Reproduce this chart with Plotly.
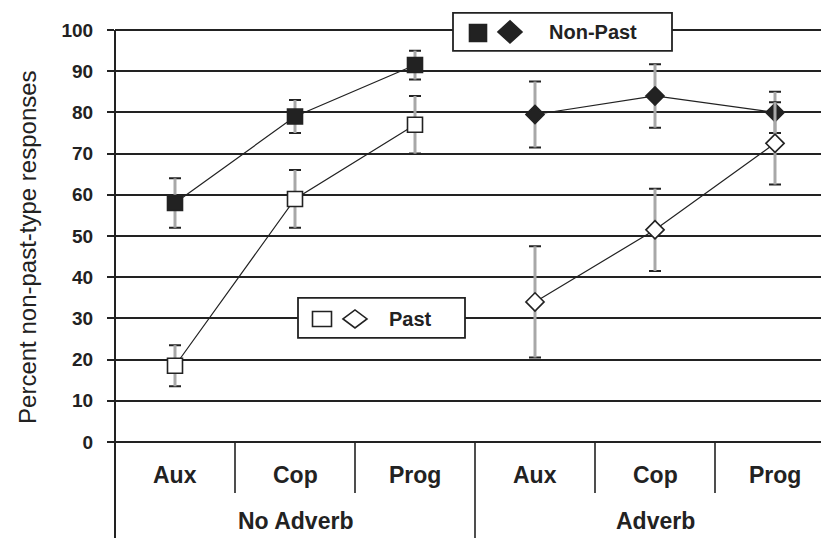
import plotly.graph_objects as go

# Conditions and groups
categories = ["Aux", "Cop", "Prog"]
groups = ["No Adverb", "Adverb"]

# Percent non-past-type responses (mean) and error bar half-widths
nonpast_noadv = [58, 79, 91.5]
nonpast_noadv_err = [6, 4, 3.5]
past_noadv = [18.5, 59, 77]
past_noadv_err = [5, 7, 7]
nonpast_adv = [79.5, 84, 80]
nonpast_adv_err = [8, 7.7, 5]
past_adv = [34, 51.5, 72.5]
past_adv_err = [13.5, 10, 10]

y_ticks = list(range(0, 101, 10))

DARK = "#222222"
GREY = "#a8a8a8"
FONT = "Arial, Liberation Sans, sans-serif"

n_cat = len(categories)
x_noadv = [i + 0.5 for i in range(n_cat)]
x_adv = [n_cat + i + 0.5 for i in range(n_cat)]

fig = go.Figure()


def add_series(xs, ys, errs, symbol, fill, size):
    # dark caps underneath
    fig.add_trace(go.Scatter(
        x=xs, y=ys, mode="markers", marker=dict(size=0.1, opacity=0),
        error_y=dict(type="data", array=errs, visible=True, color=DARK,
                     thickness=2, width=6),
        showlegend=False, hoverinfo="skip"))
    # grey stems on top
    fig.add_trace(go.Scatter(
        x=xs, y=ys, mode="markers", marker=dict(size=0.1, opacity=0),
        error_y=dict(type="data", array=errs, visible=True, color=GREY,
                     thickness=3, width=0),
        showlegend=False, hoverinfo="skip"))
    # connecting line + markers
    fig.add_trace(go.Scatter(
        x=xs, y=ys, mode="lines+markers",
        line=dict(color=DARK, width=1.2),
        marker=dict(symbol=symbol, size=size, color=fill,
                    line=dict(color=DARK, width=1.6)),
        showlegend=False))


add_series(x_noadv, nonpast_noadv, nonpast_noadv_err, "square", DARK, 15)
add_series(x_noadv, past_noadv, past_noadv_err, "square", "white", 15)
add_series(x_adv, nonpast_adv, nonpast_adv_err, "diamond", DARK, 14)
add_series(x_adv, past_adv, past_adv_err, "diamond", "white", 14)

PLOT_W = 706
PLOT_H = 416
x_max = PLOT_W / 120.0


def py(px_below):
    """paper y for a pixel offset below the zero line"""
    return (0.5 / 101.0) - px_below / PLOT_H


def px_x(p):
    return (p - 115) / PLOT_W


def px_y(p):
    return (444.06 - p) / PLOT_H


shapes = []
# left axis running through the category band
shapes.append(dict(type="line", xref="paper", yref="paper", x0=0, x1=0,
                   y0=100.5 / 101.0, y1=py(100), line=dict(color=DARK, width=2)))
# separators between conditions
for b in range(1, 2 * n_cat):
    depth = 100 if b == n_cat else 51
    shapes.append(dict(type="line", xref="x", yref="paper", x0=b, x1=b,
                       y0=py(0), y1=py(depth), line=dict(color=DARK, width=1.6)))

# legend boxes
shapes.append(dict(type="rect", xref="paper", yref="paper",
                   x0=px_x(453), x1=px_x(672), y0=px_y(51), y1=px_y(13),
                   fillcolor="white", line=dict(color=DARK, width=1.8), layer="above"))
shapes.append(dict(type="rect", xref="paper", yref="paper",
                   x0=px_x(298), x1=px_x(465), y0=px_y(338), y1=px_y(298),
                   fillcolor="white", line=dict(color=DARK, width=1.8), layer="above"))


def legend_square(cx, cy, w, h, fill):
    shapes.append(dict(type="rect", xref="paper", yref="paper",
                       x0=px_x(cx - w / 2), x1=px_x(cx + w / 2),
                       y0=px_y(cy + h / 2), y1=px_y(cy - h / 2),
                       fillcolor=fill, line=dict(color=DARK, width=1.6), layer="above"))


def legend_diamond(cx, cy, hw, hh, fill):
    path = (f"M {px_x(cx - hw)} {px_y(cy)} L {px_x(cx)} {px_y(cy - hh)} "
            f"L {px_x(cx + hw)} {px_y(cy)} L {px_x(cx)} {px_y(cy + hh)} Z")
    shapes.append(dict(type="path", xref="paper", yref="paper", path=path,
                       fillcolor=fill, line=dict(color=DARK, width=1.6), layer="above"))


legend_square(478, 33, 17, 17, DARK)
legend_diamond(510, 32, 12, 11, DARK)
legend_square(322, 319, 19, 15, "white")
legend_diamond(355, 319, 12, 9, "white")

annotations = []
for i, c in enumerate(categories + categories):
    annotations.append(dict(text=c, x=i + 0.5, xref="x", y=py(33), yref="paper",
                            showarrow=False, yanchor="middle",
                            font=dict(family=FONT, size=23, color=DARK, weight="bold")))
for g, gname in enumerate(groups):
    annotations.append(dict(text=gname, x=g * n_cat + n_cat / 2, xref="x", y=py(79),
                            yref="paper", showarrow=False, yanchor="middle",
                            font=dict(family=FONT, size=23, color=DARK, weight="bold")))

annotations.append(dict(text="Percent non-past-type responses", textangle=-90,
                        x=px_x(28), xref="paper", y=px_y(247), yref="paper",
                        showarrow=False, xanchor="center", yanchor="middle",
                        font=dict(family=FONT, size=24, color=DARK)))

annotations.append(dict(text="Non-Past", x=px_x(593), y=px_y(32), xref="paper", yref="paper",
                        showarrow=False, xanchor="center", yanchor="middle",
                        font=dict(family=FONT, size=20, color=DARK, weight="bold")))
annotations.append(dict(text="Past", x=px_x(410), y=px_y(319), xref="paper", yref="paper",
                        showarrow=False, xanchor="center", yanchor="middle",
                        font=dict(family=FONT, size=20, color=DARK, weight="bold")))

fig.update_layout(
    width=821, height=538,
    margin=dict(l=115, r=0, t=28, b=94, pad=0),
    paper_bgcolor="white", plot_bgcolor="white",
    showlegend=False,
    shapes=shapes, annotations=annotations,
    xaxis=dict(range=[0, x_max], showgrid=False, zeroline=False, showline=False,
               showticklabels=False, ticks=""),
    yaxis=dict(range=[-0.5, 100.5], tickvals=y_ticks, showgrid=True,
               gridcolor=DARK, gridwidth=1.6, zeroline=False, showline=False,
               ticks="outside", ticklen=7, tickwidth=1.6, tickcolor=DARK,
               ticklabelstandoff=10,
               tickfont=dict(family=FONT, size=19, color=DARK, weight="bold")),
)

fig.write_html("out.html")
